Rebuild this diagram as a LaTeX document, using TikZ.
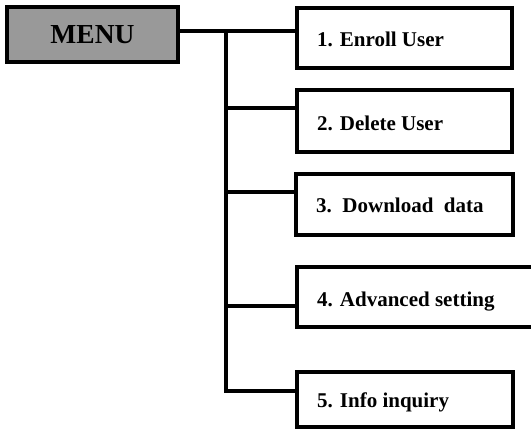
\documentclass[tikz,border=0pt]{standalone}
\usepackage{fontspec}
\setmainfont{Liberation Serif}
\begin{document}
\begin{tikzpicture}[x=1pt,y=-1pt,
  itembox/.style={draw=black, line width=3.8pt, inner sep=0pt},
  itemtext/.style={anchor=base west, inner sep=0pt,
    font=\fontsize{21}{24}\selectfont\bfseries},
  menubox/.style={draw=black, fill=black!40, line width=3.8pt, inner sep=0pt,
    minimum width=171pt, minimum height=55pt,
    font=\fontsize{27.5}{30}\selectfont\bfseries},
  link/.style={draw=black, line width=3.8pt}]
\useasboundingbox (0,0) rectangle (531,430);
\clip (0,0) rectangle (531,430);

% root
\node[menubox] (menu) at (92.5,34.5) {MENU};

% menu entries
\node[itembox, minimum width=215pt, minimum height=60pt] (b1) at (404.5,38) {};
\node[itembox, minimum width=215pt, minimum height=62pt] (b2) at (404.5,121) {};
\node[itembox, minimum width=217pt, minimum height=61pt] (b3) at (404.5,204.5) {};
\node[itembox, minimum width=263pt, minimum height=60pt] (b4) at (428.5,297) {};
\node[itembox, minimum width=216pt, minimum height=55pt] (b5) at (405,399.5) {};

\node[itemtext] (l1) at (317,47) {1. Enroll User};
\node[itemtext] (l2) at (317,131) {2. Delete User};
\node[itemtext] (l3) at (316,213) {3.\ \ Download\ \ data};
\node[itemtext] (l4) at (317,307) {4. Advanced setting};
\node[itemtext] (l5) at (317,408) {5. Info inquiry};

% junction points on the trunk
\coordinate (t1) at (226,31);
\coordinate (t2) at (226,108);
\coordinate (t3) at (226,192);
\coordinate (t4) at (226,306);
\coordinate (t5) at (226,391);

% connectors
\draw[link] (menu.east |- t1) -- (b1.west |- t1);
\draw[link] ([yshift=-2pt]t1) -- (t5) -- (b5.west |- t5);
\draw[link] (t2) -- (b2.west |- t2);
\draw[link] (t3) -- (b3.west |- t3);
\draw[link] (t4) -- (b4.west |- t4);
\end{tikzpicture}
\end{document}
